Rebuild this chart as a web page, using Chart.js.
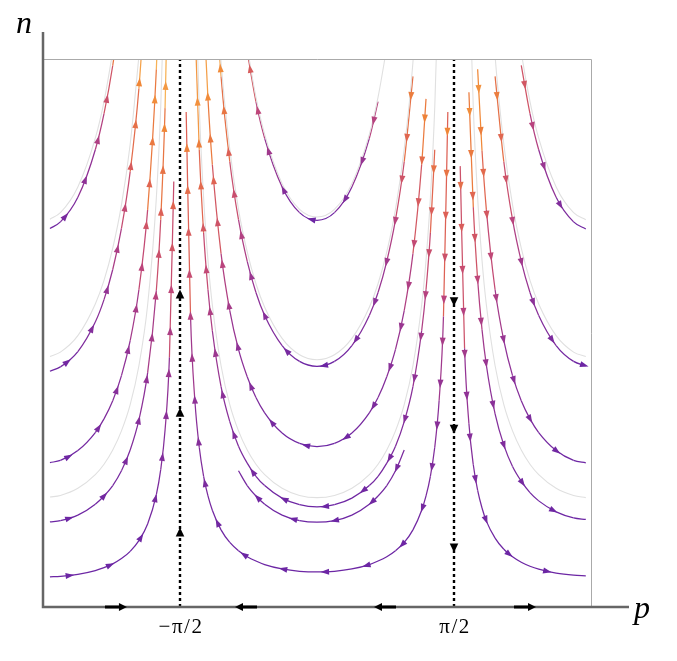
<!DOCTYPE html>
<html>
<head>
<meta charset="utf-8">
<script src="https://cdn.jsdelivr.net/npm/chart.js@4.4.1/dist/chart.umd.min.js"></script>
<style>
  body { margin: 0; background: #fff; }
  #wrap { width: 677px; height: 661px; }
</style>
</head>
<body>
<div id="wrap"><canvas id="flow" width="677" height="661"></canvas></div>
<script>
// p positions of the sample points, one grid per strip, in flow order
const pLeft = [-3.062, -2.942, -2.742, -2.542, -2.442, -2.342, -2.242, -2.142, -2.042, -1.942, -1.842, -1.792, -1.742, -1.692, -1.642, -1.622, -1.602];
const pMid = [1.54, 1.52, 1.5, 1.45, 1.4, 1.35, 1.3, 1.25, 1.2, 1.1, 1.0, 0.9, 0.8, 0.7, 0.6, 0.4, 0.2, 0, -0.2, -0.4, -0.6, -0.7, -0.8, -0.9, -1.0, -1.1, -1.2, -1.25, -1.3, -1.35, -1.4, -1.45, -1.5, -1.52, -1.54];
const pRight = [1.602, 1.622, 1.642, 1.692, 1.742, 1.792, 1.842, 1.892, 1.942, 2.042, 2.142, 2.242, 2.342, 2.442, 2.542, 2.742, 2.942, 3.082];

// streamlines, n values on those grids (null = not on this line)
const left1 = [6.92, 7.04, 7.49, 8.36, 9.02, 9.90, 11.10];
const left2 = [4.31, 4.39, 4.67, 5.21, 5.62, 6.17, 6.92, 7.96, 9.48, 11.87];
const left3 = [2.64, 2.68, 2.86, 3.19, 3.44, 3.77, 4.23, 4.87, 5.80, 7.26, 9.83, 12.01];
const left4 = [1.555, 1.58, 1.68, 1.88, 2.03, 2.22, 2.49, 2.87, 3.42, 4.28, 5.79, 7.08, 9.12, 12.87];
const left5 = [0.552, 0.561, 0.597, 0.666, 0.719, 0.789, 0.885, 1.018, 1.213, 1.518, 2.056, 2.511, 3.236, 4.565, 7.78];

const mid1 = [null, null, null, null, null, null, null, null, null, null, null, null, null, 9.24, 8.57, 7.68, 7.21, 7.07, 7.21, 7.68, 8.57, 9.24, 10.15];
const mid2 = [null, null, null, null, null, null, null, null, null, 9.70, 8.14, 7.08, 6.32, 5.75, 5.33, 4.78, 4.49, 4.40, 4.49, 4.78, 5.33, 5.75, 6.32, 7.08, 8.14, 9.70, 12.14];
const mid3 = [null, null, null, null, null, null, null, 9.29, 8.09, 6.46, 5.42, 4.71, 4.21, 3.83, 3.55, 3.18, 2.99, 2.93, 2.99, 3.18, 3.55, 3.83, 4.21, 4.71, 5.42, 6.46, 8.09, 9.29, 10.95];
const mid4 = [null, null, null, null, null, 8.36, 6.84, 5.80, 5.05, 4.03, 3.39, 2.94, 2.63, 2.39, 2.22, 1.99, 1.87, 1.83, 1.87, 1.99, 2.22, 2.39, 2.63, 2.94, 3.39, 4.03, 5.05, 5.80, 6.84, 8.36, 10.77];
const mid5 = [null, null, null, null, null, null, null, null, null, null, 2.87, 2.49, 2.22, 2.03, 1.88, 1.68, 1.58, 1.55, 1.58, 1.68, 1.88, 2.03, 2.22, 2.49];
const mid6 = [null, null, 9.05, 5.31, 3.77, 2.92, 2.39, 2.03, 1.77, 1.41, 1.18, 1.03, 0.92, 0.84, 0.775, 0.695, 0.653, 0.64, 0.653, 0.695, 0.775, 0.84, 0.92, 1.03, 1.18, 1.41, 1.77, 2.03, 2.39, 2.92, 3.77, 5.31, 9.05];

const right1 = [null, null, null, null, null, null, null, null, null, null, null, null, 9.90, 9.02, 8.36, 7.49, 7.04, 6.91];
const right2 = [null, null, null, null, null, null, null, null, null, 9.70, 8.14, 7.08, 6.32, 5.75, 5.33, 4.78, 4.49, 4.41];
const right3 = [null, null, null, null, null, null, 9.83, 8.34, 7.26, 5.80, 4.87, 4.23, 3.77, 3.44, 3.19, 2.86, 2.68, 2.635];
const right4 = [null, null, null, null, 9.41, 7.31, 5.98, 5.07, 4.42, 3.53, 2.96, 2.57, 2.30, 2.09, 1.94, 1.74, 1.63, 1.60];
const right5 = [null, null, 8.06, 4.73, 3.35, 2.60, 2.13, 1.81, 1.57, 1.26, 1.055, 0.917, 0.818, 0.745, 0.691, 0.619, 0.582, 0.571];

// pale reference curves
const grayLeft1 = [7.09, 7.21, 7.68, 8.57, 9.24, 10.15];
const grayLeft2 = [4.58, 4.66, 4.96, 5.54, 5.97, 6.56, 7.35, 8.46, 10.07];
const grayLeft3 = [2.01, 2.04, 2.17, 2.42, 2.61, 2.87, 3.22, 3.70, 4.41, 5.52, 7.48, 9.13, 11.77];
const grayMid1 = [null, null, null, null, null, null, null, null, null, null, null, null, 10.23, 9.32, 8.64, 7.74, 7.27, 7.13, 7.27, 7.74, 8.64, 9.32, 10.23];
const grayMid2 = [null, null, null, null, null, null, null, null, 12.47, 9.96, 8.37, 7.27, 6.49, 5.91, 5.48, 4.91, 4.61, 4.52, 4.61, 4.91, 5.48, 5.91, 6.49, 7.27, 8.37, 9.96, 12.47];
const grayMid3 = [null, null, null, null, 11.77, 9.13, 7.48, 6.34, 5.52, 4.41, 3.70, 3.22, 2.87, 2.61, 2.42, 2.17, 2.04, 2.00, 2.04, 2.17, 2.42, 2.61, 2.87, 3.22, 3.70, 4.41, 5.52, 6.34, 7.48, 9.13, 11.77];
const grayRight1 = [null, null, null, null, null, null, null, null, null, null, null, 11.38, 10.15, 9.24, 8.57, 7.68, 7.21, 7.08];
const grayRight2 = [null, null, null, null, null, null, null, null, 12.61, 10.07, 8.46, 7.35, 6.56, 5.97, 5.54, 4.96, 4.66, 4.58];
const grayRight3 = [null, null, null, null, 11.77, 9.13, 7.48, 6.34, 5.52, 4.41, 3.70, 3.22, 2.87, 2.61, 2.42, 2.17, 2.04, 2.00];

// invariant lines and axis arrows
const dotUpN = [1.37, 3.56, 5.72];      // on p = -pi/2
const dotDownN = [5.58, 3.25, 1.08];    // on p = pi/2
const axisArrowP = [-2.305, -0.814, 0.780, 2.385];
const axisArrowDir = [1, -1, -1, 1];
const tickP = [-Math.PI / 2, Math.PI / 2];
const tickText = ['\u2212\u03c0/2', '\u03c0/2'];

const stops = [
  [0.0, [108, 38, 164]],
  [0.3, [144, 50, 150]],
  [0.5, [190, 70, 122]],
  [0.65, [222, 98, 84]],
  [0.8, [240, 134, 54]],
  [1.0, [247, 178, 86]]
];

function flowColor(p, n) {
  const s = Math.hypot(Math.cos(p), n * Math.sin(p));
  const t = Math.max(0, Math.min(1, (s - 1) / 9.5));
  for (let i = 1; i < stops.length; i++) {
    if (t <= stops[i][0]) {
      const [t0, c0] = stops[i - 1], [t1, c1] = stops[i];
      const f = (t - t0) / (t1 - t0);
      const c = c0.map((v, k) => Math.round(v + (c1[k] - v) * f));
      return 'rgb(' + c.join(',') + ')';
    }
  }
  return 'rgb(247,178,86)';
}

function strip(grid, values) {
  const pts = [];
  values.forEach((n, i) => { if (n !== null) pts.push({ x: grid[i], y: n }); });
  return pts;
}

function streamline(grid, values) {
  return {
    data: strip(grid, values),
    showLine: true,
    pointRadius: 0,
    borderWidth: 1.25,
    cubicInterpolationMode: 'monotone',
    arrows: true,
    segment: {
      borderColor: c => {
        const d = c.chart.data.datasets[c.datasetIndex].data;
        const a = d[c.p0DataIndex], b = d[c.p1DataIndex];
        return flowColor((a.x + b.x) / 2, (a.y + b.y) / 2);
      }
    }
  };
}

function grayline(grid, values) {
  return {
    data: strip(grid, values),
    showLine: true,
    pointRadius: 0,
    borderWidth: 1.1,
    borderColor: 'rgb(224,224,224)',
    cubicInterpolationMode: 'monotone'
  };
}

function tri(ctx, x, y, ang, len, half) {
  ctx.save();
  ctx.translate(x, y);
  ctx.rotate(ang);
  ctx.beginPath();
  ctx.moveTo(len / 2, 0);
  ctx.lineTo(-len / 2, half);
  ctx.lineTo(-len / 2, -half);
  ctx.closePath();
  ctx.fill();
  ctx.restore();
}

// arrowheads along each streamline, spaced by arc length
const flowArrows = {
  id: 'flowArrows',
  afterDatasetsDraw(chart) {
    const { ctx, chartArea: area, scales: { x, y } } = chart;
    ctx.save();
    ctx.beginPath();
    ctx.rect(area.left, area.top, area.width, area.height);
    ctx.clip();
    chart.data.datasets.forEach((ds, i) => {
      if (!ds.arrows) return;
      const pts = chart.getDatasetMeta(i).data;
      const path = [];
      for (let k = 0; k < pts.length - 1; k++) {
        const a = pts[k], b = pts[k + 1];
        const c1x = a.cp2x ?? a.x, c1y = a.cp2y ?? a.y;
        const c2x = b.cp1x ?? b.x, c2y = b.cp1y ?? b.y;
        for (let s = 0; s < 12; s++) {
          const t = s / 12, u = 1 - t;
          path.push([
            u * u * u * a.x + 3 * u * u * t * c1x + 3 * u * t * t * c2x + t * t * t * b.x,
            u * u * u * a.y + 3 * u * u * t * c1y + 3 * u * t * t * c2y + t * t * t * b.y
          ]);
        }
      }
      const last = pts[pts.length - 1];
      path.push([last.x, last.y]);
      let dist = 0, next = 20;
      for (let k = 1; k < path.length; k++) {
        const dx = path[k][0] - path[k - 1][0], dy = path[k][1] - path[k - 1][1];
        const seg = Math.hypot(dx, dy);
        while (seg > 0 && dist + seg >= next) {
          const f = (next - dist) / seg;
          const px = path[k - 1][0] + dx * f, py = path[k - 1][1] + dy * f;
          if (px > area.left + 3 && px < area.right - 3 && py > area.top + 4 && py < area.bottom - 3) {
            ctx.fillStyle = flowColor(x.getValueForPixel(px), y.getValueForPixel(py));
            tri(ctx, px, py, Math.atan2(dy, dx), 8.5, 3);
          }
          next += 42;
        }
        dist += seg;
      }
    });
    ctx.restore();
  }
};

// frame, spines, invariant lines, labels
const decorations = {
  id: 'decorations',
  afterDraw(chart) {
    const { ctx, chartArea: area, scales: { x, y } } = chart;
    ctx.save();
    ctx.strokeStyle = '#aaaaaa';
    ctx.lineWidth = 1;
    ctx.beginPath();
    ctx.moveTo(area.left, area.top - 0.5);
    ctx.lineTo(area.right + 0.5, area.top - 0.5);
    ctx.lineTo(area.right + 0.5, area.bottom);
    ctx.stroke();

    ctx.strokeStyle = 'black';
    ctx.fillStyle = 'black';
    ctx.lineWidth = 2.4;
    ctx.setLineDash([3, 3]);
    tickP.forEach(p => {
      const px = x.getPixelForValue(p);
      ctx.beginPath();
      ctx.moveTo(px, area.bottom);
      ctx.lineTo(px, area.top);
      ctx.stroke();
    });
    ctx.setLineDash([]);
    dotUpN.forEach(n => tri(ctx, x.getPixelForValue(-Math.PI / 2), y.getPixelForValue(n), -Math.PI / 2, 9, 4.3));
    dotDownN.forEach(n => tri(ctx, x.getPixelForValue(Math.PI / 2), y.getPixelForValue(n), Math.PI / 2, 9, 4.3));

    ctx.strokeStyle = '#666666';
    ctx.lineWidth = 2.5;
    ctx.beginPath();
    ctx.moveTo(area.left, 32);
    ctx.lineTo(area.left, area.bottom);
    ctx.lineTo(629, area.bottom);
    ctx.stroke();

    ctx.strokeStyle = 'black';
    ctx.lineWidth = 3;
    axisArrowP.forEach((p, i) => {
      const cx = x.getPixelForValue(p), d = axisArrowDir[i], yy = area.bottom;
      ctx.beginPath();
      ctx.moveTo(cx - d * 11, yy);
      ctx.lineTo(cx + d * 3, yy);
      ctx.stroke();
      tri(ctx, cx + d * 7, yy, d > 0 ? 0 : Math.PI, 8, 4);
    });

    ctx.fillStyle = 'black';
    ctx.textAlign = 'center';
    ctx.textBaseline = 'alphabetic';
    ctx.font = '21px "Liberation Serif"';
    ctx.letterSpacing = '1.5px';
    tickP.forEach((p, i) => ctx.fillText(tickText[i], x.getPixelForValue(p) + 1, 633));
    ctx.letterSpacing = '0px';
    ctx.font = 'italic 32px "Liberation Serif"';
    ctx.textAlign = 'left';
    ctx.fillText('n', 16, 33);
    ctx.fillText('p', 634, 618);
    ctx.restore();
  }
};

new Chart(document.getElementById('flow'), {
  type: 'scatter',
  data: {
    datasets: [
      grayline(pLeft, grayLeft1), grayline(pLeft, grayLeft2), grayline(pLeft, grayLeft3),
      grayline(pMid, grayMid1), grayline(pMid, grayMid2), grayline(pMid, grayMid3),
      grayline(pRight, grayRight1), grayline(pRight, grayRight2), grayline(pRight, grayRight3),
      streamline(pLeft, left1), streamline(pLeft, left2), streamline(pLeft, left3),
      streamline(pLeft, left4), streamline(pLeft, left5),
      streamline(pMid, mid1), streamline(pMid, mid2), streamline(pMid, mid3),
      streamline(pMid, mid4), streamline(pMid, mid5), streamline(pMid, mid6),
      streamline(pRight, right1), streamline(pRight, right2), streamline(pRight, right3),
      streamline(pRight, right4), streamline(pRight, right5)
    ]
  },
  options: {
    responsive: false,
    animation: false,
    events: [],
    layout: { padding: { left: 43, right: 86, top: 60, bottom: 54 } },
    scales: {
      x: { type: 'linear', min: -Math.PI, max: Math.PI, display: false },
      y: { type: 'linear', min: 0, max: 10, display: false }
    },
    plugins: { legend: { display: false }, tooltip: { enabled: false } }
  },
  plugins: [flowArrows, decorations]
});
</script>
</body>
</html>
